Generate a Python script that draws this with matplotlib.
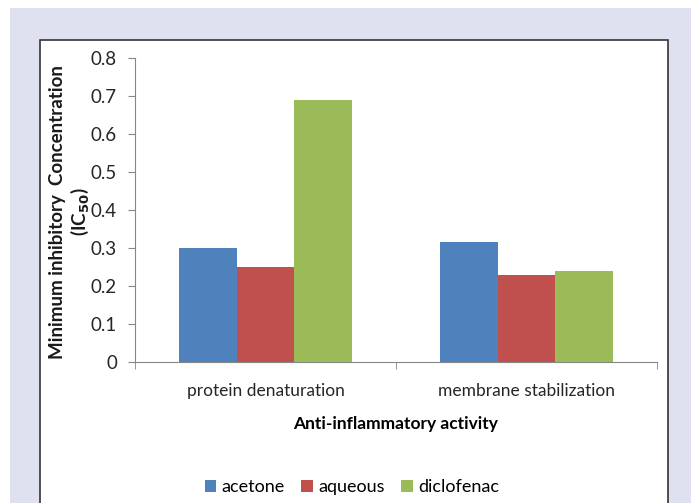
import matplotlib.pyplot as plt
import matplotlib.patches as mpatches
import numpy as np

plt.rcParams['font.family'] = ['Lato', 'DejaVu Sans']

# data
categories = ['protein denaturation', 'membrane stabilization']
series = ['acetone', 'aqueous', 'diclofenac']
acetone = [0.30, 0.315]
aqueous = [0.25, 0.23]
diclofenac = [0.69, 0.24]
colors = ['#4f81bd', '#c0504d', '#9bbb59']

fig = plt.figure(figsize=(6.91, 5.03), dpi=100)
fig.patch.set_facecolor('white')

# lavender page and white chart box
fig.patches.append(mpatches.Rectangle((10/691, 0), 1, (503-8)/503, transform=fig.transFigure,
                                      facecolor='#dfe1f0', edgecolor='none', zorder=-2))
fig.patches.append(mpatches.Rectangle((40/691, -0.01), (668-40)/691, (503-40)/503 + 0.01,
                                      transform=fig.transFigure, facecolor='white',
                                      edgecolor='#333333', linewidth=1.2, zorder=-1))

ax = fig.add_axes([135/691, 141/503, 522/691, 304/503])
ax.set_facecolor('none')
ax.set_zorder(2)

x = np.arange(len(categories))
w = 0.222
for i, (vals, c) in enumerate(zip([acetone, aqueous, diclofenac], colors)):
    ax.bar(x + (i - 1) * w, vals, width=w, color=c, label=series[i], zorder=3)

ax.set_xlim(-0.5, 1.5)
ax.set_ylim(0, 0.8)
ax.set_yticks(np.arange(0, 0.81, 0.1))
ax.set_yticklabels(['0', '0.1', '0.2', '0.3', '0.4', '0.5', '0.6', '0.7', '0.8'])
ax.set_xticks(x)
ax.set_xticklabels(categories)
ax.set_xticks([-0.5, 0.5, 1.5], minor=True)
ax.tick_params(axis='x', which='major', length=0, pad=15, labelsize=12.5, labelcolor='#262626')
ax.tick_params(axis='x', which='minor', length=5, color='#868686')
ax.tick_params(axis='y', length=5, color='#868686', labelsize=13.5, labelcolor='#262626', pad=8)

for s in ['top', 'right']:
    ax.spines[s].set_visible(False)
for s in ['left', 'bottom']:
    ax.spines[s].set_color('#868686')

ax.set_xlabel('Anti-inflammatory activity', fontsize=12.5, fontweight='bold', labelpad=12)

# two-line y title, placed line by line
fig.text(58/691, 1 - 212/503, 'Minimum inhibitory  Concentration', rotation=90,
         ha='center', va='center', fontsize=13.5, fontweight='bold', color='#1a1a1a')
fig.text(80/691, 1 - 212/503, '(IC$_{\\mathbf{50}}$)', rotation=90,
         ha='center', va='center', fontsize=13.5, fontweight='bold', color='#1a1a1a')

ax.legend(loc='center', bbox_to_anchor=(352/691, 16/503), bbox_transform=fig.transFigure,
          ncol=3, frameon=False, fontsize=13, handlelength=0.65, handleheight=0.65,
          handletextpad=0.3, columnspacing=0.9)

fig.savefig('out.png', dpi=100)
